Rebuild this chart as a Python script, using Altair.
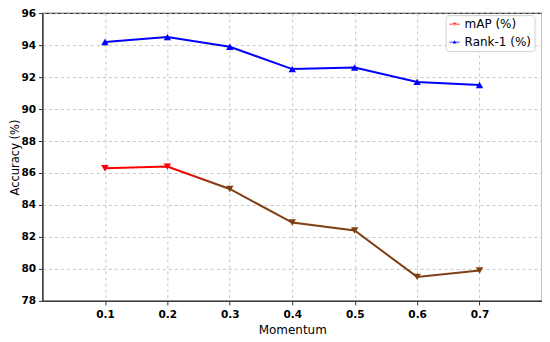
import altair as alt
import pandas as pd

momentum = [0.1, 0.2, 0.3, 0.4, 0.5, 0.6, 0.7]
map_vals = [86.3, 86.4, 85.0, 82.9, 82.4, 79.5, 79.9]
rank1_vals = [94.2, 94.5, 93.9, 92.5, 92.6, 91.7, 91.5]
series_names = ["mAP (%)", "Rank-1 (%)"]
y_ticks = [78, 80, 82, 84, 86, 88, 90, 92, 94, 96]

df = pd.DataFrame({
    "Momentum": momentum * 2,
    "Accuracy": map_vals + rank1_vals,
    "Series": [series_names[0]] * len(momentum) + [series_names[1]] * len(momentum),
})
df_map = df[df.Series == series_names[0]]
df_rank = df[df.Series == series_names[1]]

BROWN = "#7f3f16"
FONT = "DejaVu Sans"

x = alt.X("Momentum:Q", scale=alt.Scale(domain=[0, 0.8], nice=False),
          axis=alt.Axis(values=momentum, format=".1f", title="Momentum"))
y = alt.Y("Accuracy:Q", scale=alt.Scale(domain=[78, 96], nice=False),
          axis=alt.Axis(values=y_ticks, format="d", title="Accuracy (%)"))

grad = alt.Gradient(
    gradient="linear", x1=0, x2=1, y1=0, y2=0,
    stops=[alt.GradientStop(color="red", offset=0),
           alt.GradientStop(color="red", offset=0.2),
           alt.GradientStop(color=BROWN, offset=0.3),
           alt.GradientStop(color=BROWN, offset=1)],
)

map_line = alt.Chart(df_map).mark_line(strokeWidth=2, color=grad).encode(x=x, y=y)
rank_line = alt.Chart(df_rank).mark_line(strokeWidth=2, color="blue").encode(x=x, y=y)

map_pts = alt.Chart(df_map).mark_point(shape="triangle-down", filled=True, size=55, opacity=1).encode(
    x=x, y=y,
    color=alt.condition(alt.datum.Momentum <= 0.2, alt.value("red"), alt.value(BROWN)),
)
rank_pts = alt.Chart(df_rank).mark_point(shape="triangle-up", filled=True, size=55, opacity=1, color="blue").encode(
    x=x, y=y,
)

down_path = "M-1.2,-0.11H1.2V0.11H-1.2ZM0,0.42L0.45,-0.34L-0.45,-0.34Z"
up_path = "M-1.2,-0.11H1.2V0.11H-1.2ZM0,-0.42L0.45,0.34L-0.45,0.34Z"

legend_layer = alt.Chart(df).mark_point(filled=True, opacity=0).encode(
    x=x, y=y,
    color=alt.Color("Series:N", scale=alt.Scale(domain=series_names, range=["red", "blue"]), title=None),
    shape=alt.Shape("Series:N", scale=alt.Scale(domain=series_names, range=[down_path, up_path]), title=None),
)

chart = alt.layer(legend_layer, map_line, rank_line, map_pts, rank_pts).properties(
    width=500, height=288,
    autosize=alt.AutoSizeParams(type="none"),
    padding={"left": 34.5, "top": 5, "right": 0, "bottom": 38},
).configure_view(stroke="#333", strokeWidth=1.2).configure_axis(
    grid=True, gridColor="#b8b8b8", gridDash=[3, 3], gridWidth=0.8,
    domainColor="#333", tickColor="#333", tickSize=4,
    labelFont=FONT, labelFontSize=10.5, labelFontWeight="bold", labelColor="#000",
    titleFont=FONT, titleFontSize=12, titleFontWeight="normal", titleColor="#000",
).configure_axisY(titlePadding=0.5, labelPadding=3, titleFontSize=11.5).configure_axisX(titlePadding=4, labelPadding=5
).configure_legend(
    orient="none", legendX=403.5, legendY=2,
    symbolOpacity=1, symbolSize=72, symbolStrokeWidth=0,
    labelFont=FONT, labelFontSize=12, labelColor="#000",
    strokeColor="#d0d0d0", fillColor="white", cornerRadius=3,
    padding=3, rowPadding=6, symbolOffset=0, labelOffset=4,
)

chart.save("out.html", embed_options={"renderer": "svg", "actions": False})
